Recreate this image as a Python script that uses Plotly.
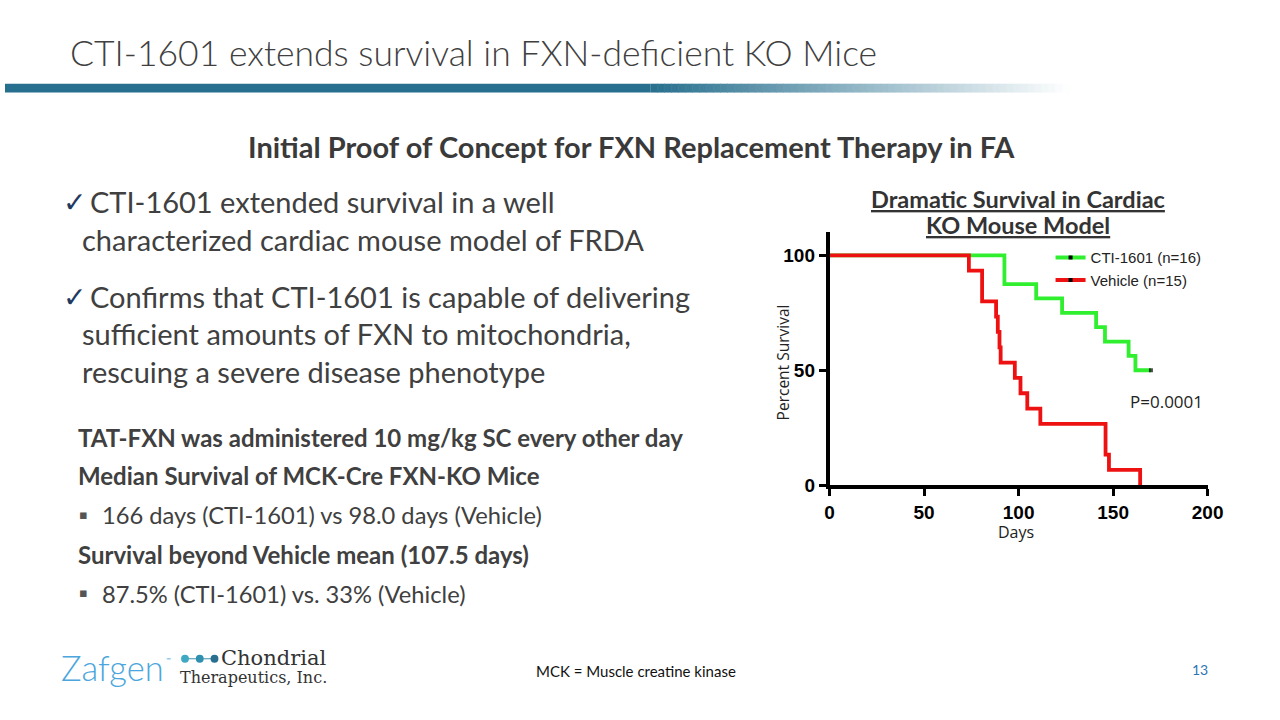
import plotly.graph_objects as go

# ---------------- data ----------------
cti_days = [0, 92.5, 109.3, 123, 141, 145.7, 158.2, 161.8, 170]
cti_surv = [100, 87.5, 81.25, 75, 68.75, 62.5, 56.25, 50, 50]
veh_days = [0, 73.7, 80.7, 88.1, 89.0, 89.9, 90.5, 98, 101, 104.6, 111.5, 146, 147.8, 164.3]
veh_surv = [100, 93.33, 80, 73.33, 66.67, 60, 53.33, 46.67, 40, 33.33, 26.67, 13.33, 6.67, 0]
censor_days = [170]
censor_surv = [50]
series_names = ["CTI-1601 (n=16)", "Vehicle (n=15)"]
x_ticks = [0, 50, 100, 150, 200]
y_ticks = [0, 50, 100]

GREEN = "#2fef2f"
RED = "#ee1111"
TXT = "#404040"

W, H = 1280, 720


def px(x):
    return x / W


def py(y):
    return 1 - y / H


fig = go.Figure()

fig.add_trace(go.Scatter(x=cti_days, y=cti_surv, mode="lines", line=dict(color=GREEN, width=3.8, shape="hv"),
                         showlegend=False, hoverinfo="skip"))
fig.add_trace(go.Scatter(x=veh_days, y=veh_surv, mode="lines", line=dict(color=RED, width=3.8, shape="hv"),
                         showlegend=False, hoverinfo="skip"))
fig.add_trace(go.Scatter(x=censor_days, y=censor_surv, mode="markers",
                         marker=dict(symbol="square", size=[4], color="black", line=dict(width=0)),
                         showlegend=False, hoverinfo="skip", cliponaxis=False))
for name, col in zip(series_names, [GREEN, RED]):
    fig.add_trace(go.Scatter(x=[None], y=[None], mode="lines+markers", name=name,
                             line=dict(color=col, width=3.8),
                             marker=dict(symbol="square", size=4, color="black", line=dict(width=0))))

axis_common = dict(showline=True, linecolor="black", linewidth=3.5, ticks="outside", ticklen=7,
                   tickwidth=3, tickcolor="black", showgrid=False, zeroline=False,
                   tickfont=dict(family="Liberation Sans, Arial", size=19, color="black", weight="bold"))

fig.update_layout(
    autosize=True,
    margin=dict(l=0, r=0, t=0, b=0),
    paper_bgcolor="white", plot_bgcolor="white",
    xaxis=dict(domain=[838.3 / W, 1222.7 / W], range=[0, 200], tickvals=x_ticks, anchor="y", **axis_common),
    yaxis=dict(domain=[1 - 492.7 / H, 1 - 236 / H], range=[0, 110], tickvals=y_ticks, anchor="x", **axis_common),
    legend=dict(x=px(1063), y=py(245), xanchor="left", yanchor="top", bgcolor="rgba(0,0,0,0)",
                font=dict(family="Liberation Sans, Arial", size=15, color="#222"),
                itemwidth=30, tracegroupgap=0),
    showlegend=True,
)

annotations = []


def ann(text, x, y, size, color=TXT, weight="normal", family="Lato", xanchor="left", yanchor="middle",
        angle=0, **fontkw):
    annotations.append(dict(text=text, x=px(x), y=py(y), xref="paper", yref="paper", showarrow=False,
                            xanchor=xanchor, yanchor=yanchor, textangle=angle,
                            font=dict(family=family, size=size, color=color, weight=weight, **fontkw)))


# title
ann("CTI-1601 extends survival in FXN-deficient KO Mice", 64, 53, 35.5, color="#404040", weight=300)
# subtitle
ann("Initial Proof of Concept for FXN Replacement Therapy in FA", 637, 149, 29, color="#3a3a3a",
    weight="bold", xanchor="center")

# checked bullets
CHECK = "#1f3a5f"
ann("✓", 57, 206, 28, color=CHECK, family="DejaVu Sans")
ann("CTI-1601 extended survival in a well", 84, 205, 29)
ann("characterized cardiac mouse model of FRDA", 76, 243, 29)
ann("✓", 57, 302, 28, color=CHECK, family="DejaVu Sans")
ann("Confirms that CTI-1601 is capable of delivering", 84, 301, 29)
ann("sufficient amounts of FXN to mitochondria,", 76, 339, 29)
ann("rescuing a severe disease phenotype", 76, 377, 29)

# lower text block
ann("TAT-FXN was administered 10 mg/kg SC every other day", 72, 444, 24, weight="bold")
ann("Median Survival of MCK-Cre FXN-KO Mice", 72, 483, 24, weight="bold")
ann("▪", 79.5, 522, 13, color="#555", family="DejaVu Sans", xanchor="center")
ann("166 days (CTI-1601) vs 98.0 days (Vehicle)", 97, 523, 23.7)
ann("Survival beyond Vehicle mean (107.5 days)", 72, 563, 24, weight="bold")
ann("▪", 79.5, 602, 13, color="#555", family="DejaVu Sans", xanchor="center")
ann("87.5% (CTI-1601) vs. 33% (Vehicle)", 97, 603, 23.7)

# chart title
ann("Dramatic Survival in Cardiac", 1030, 202, 23.5, color="#333", weight="bold", xanchor="center",
    lineposition="under")
ann("KO Mouse Model", 1030, 228, 23.5, color="#333", weight="bold", xanchor="center", lineposition="under")

# axis titles & p value
ann("Percent Survival", 791, 368, 15.5, color="#222", family="Open Sans", xanchor="center", angle=-90)
ann("Days", 1028, 540, 16, color="#222", family="Open Sans", xanchor="center")
ann("P=0.0001", 1181, 408, 17, color="#222", family="Open Sans", xanchor="center")

# footer
ann("MCK = Muscle creatine kinase", 538, 681, 15, color="#111", family="Lato")
ann("13", 1205, 680, 14, color="#2e75b6", family="Lato")

# logos as text
ann("Zafgen", 55, 678, 34.5, color="#4ba6dd", family="Lato", weight=300)
ann("™", 166, 670, 6, color="#4ba6dd", family="Lato", xanchor="center")
ann("Chondrial", 218, 668, 21, color="#333", family="DejaVu Serif")
ann("Therapeutics, Inc.", 176, 688, 16, color="#333", family="DejaVu Serif")

fig.update_layout(annotations=annotations)

# decorative header bar with gradient
shapes = []
BAR = (39, 111, 142)
x_solid, x_end = 656, 1082
shapes.append(dict(type="rect", xref="paper", yref="paper", x0=0, x1=px(x_solid), y0=py(94), y1=py(85),
                   line=dict(width=0), fillcolor="rgb(%d,%d,%d)" % BAR, layer="below"))
n = 60
for i in range(n):
    x0 = x_solid + (x_end - x_solid) * i / n
    x1 = x_solid + (x_end - x_solid) * (i + 1) / n
    t = (i + 0.5) / n
    c = tuple(int(round(v + (255 - v) * t)) for v in BAR)
    shapes.append(dict(type="rect", xref="paper", yref="paper", x0=px(x0), x1=px(x1) + 0.0005,
                       y0=py(94), y1=py(85), line=dict(width=0), fillcolor="rgb(%d,%d,%d)" % c, layer="below"))

# Chondrial dots
for cx, col in zip([183, 198, 213], ["#3fa9c3", "#2f8fae", "#2a6f8f"]):
    shapes.append(dict(type="circle", xref="paper", yref="paper", x0=px(cx - 4), x1=px(cx + 4),
                       y0=py(673), y1=py(665), line=dict(width=0), fillcolor=col))
shapes.append(dict(type="line", xref="paper", yref="paper", x0=px(183), x1=px(213), y0=py(669), y1=py(669),
                   line=dict(width=1, color="#3a8fae"), layer="below"))
fig.update_layout(shapes=shapes)

fig.write_html(
    "out.html",
    config={"displayModeBar": False, "responsive": True},
    default_width="100vw",
    default_height="100vh",
    post_script="document.body.style.margin='0px';document.body.style.overflow='hidden';"
                "document.documentElement.style.overflow='hidden';",
)
